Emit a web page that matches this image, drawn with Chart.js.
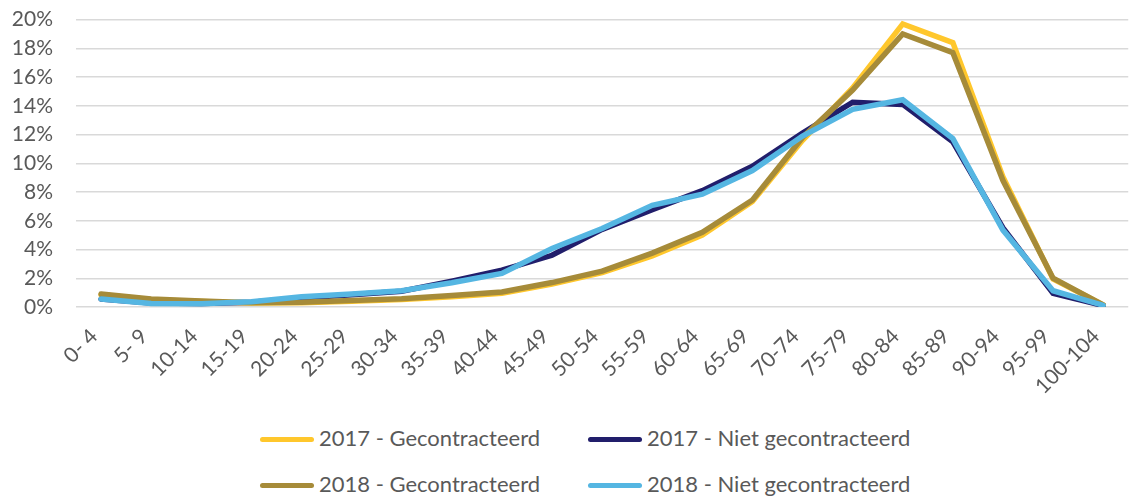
<!DOCTYPE html>
<html>
<head>
<meta charset="utf-8">
<script src="https://cdn.jsdelivr.net/npm/chart.js@4/dist/chart.umd.min.js"></script>
<style>
  html, body { margin: 0; padding: 0; background: #fff; overflow: hidden; width: 1132px; height: 497px; }
  #wrap { position: absolute; left: 0; top: -16px; width: 1138px; height: 423px; }
  #legend { position: absolute; left: 0; top: 420px; width: 1132px; height: 77px;
    font-family: Lato, "Open Sans", sans-serif; font-size: 22px; color: #595959; }
  .item { position: absolute; height: 24px; line-height: 24px; white-space: nowrap; }
  .swatch { display: inline-block; width: 54px; height: 5px; border-radius: 3px; vertical-align: middle; margin-right: 5px; position: relative; top: -1px; }
</style>
</head>
<body>
<div id="wrap"><canvas id="c" width="1138" height="423"></canvas></div>
<div id="legend"></div>
<script>
const categories = ['0- 4','5- 9','10-14','15-19','20-24','25-29','30-34','35-39','40-44','45-49','50-54','55-59','60-64','65-69','70-74','75-79','80-84','85-89','90-94','95-99','100-104'];

const seriesNames = ['2017 - Gecontracteerd', '2017 - Niet gecontracteerd', '2018 - Gecontracteerd', '2018 - Niet gecontracteerd'];

const gecontracteerd2017 = [0.85, 0.5, 0.38, 0.28, 0.3, 0.4, 0.52, 0.72, 0.95, 1.6, 2.4, 3.55, 5.0, 7.35, 11.6, 15.25, 19.7, 18.4, 9.05, 1.95, 0.15];
const nietGecontracteerd2017 = [0.55, 0.28, 0.25, 0.33, 0.62, 0.85, 1.1, 1.8, 2.57, 3.6, 5.4, 6.78, 8.1, 9.8, 12.1, 14.25, 14.1, 11.5, 5.5, 0.95, 0.1];
const gecontracteerd2018 = [0.9, 0.55, 0.42, 0.3, 0.33, 0.45, 0.58, 0.8, 1.05, 1.7, 2.5, 3.75, 5.2, 7.45, 11.8, 15.1, 19.0, 17.7, 8.8, 2.0, 0.15];
const nietGecontracteerd2018 = [0.55, 0.25, 0.23, 0.37, 0.72, 0.9, 1.13, 1.69, 2.34, 4.07, 5.46, 7.08, 7.85, 9.5, 11.9, 13.75, 14.42, 11.72, 5.35, 1.13, 0.12];

const yTicks = [0, 2, 4, 6, 8, 10, 12, 14, 16, 18, 20];

const colors = ['#FFC72C', '#211E6B', '#A68B39', '#55B6E2'];
const drawOrder = [3, 2, 1, 0];
const seriesValues = [gecontracteerd2017, nietGecontracteerd2017, gecontracteerd2018, nietGecontracteerd2018];

const FONT = 'Lato, "Open Sans", sans-serif';
const TEXT = '#595959';

const datasets = seriesValues.map((vals, i) => ({
  label: seriesNames[i],
  data: vals,
  borderColor: colors[i],
  backgroundColor: colors[i],
  borderWidth: 5.5,
  pointRadius: 0,
  tension: 0,
  fill: false,
  order: drawOrder[i],
  borderCapStyle: 'round',
  borderJoinStyle: 'miter'
}));

const chart = new Chart(document.getElementById('c'), {
  type: 'line',
  data: { labels: categories, datasets },
  options: {
    responsive: false,
    animation: false,
    devicePixelRatio: 1,
    layout: { padding: { top: 3, right: 0, bottom: 0, left: 0 } },
    plugins: { legend: { display: false }, tooltip: { enabled: false } },
    scales: {
      x: {
        offset: true,
        grid: { display: false, drawTicks: false },
        border: { display: false },
        ticks: { color: TEXT, font: { family: FONT, size: 21 }, maxRotation: 45, minRotation: 45, autoSkip: false, padding: 17, labelOffset: -7 },
        afterFit: s => { s.height = 100; }
      },
      y: {
        min: 0, max: 20,
        afterBuildTicks: s => { s.ticks = yTicks.map(v => ({ value: v })); },
        grid: { color: '#D9D9D9', lineWidth: 1.5, drawTicks: false },
        border: { display: false },
        ticks: { color: TEXT, font: { family: FONT, size: 21 }, padding: 23, autoSkip: false, callback: v => v + '%' },
        afterFit: s => { s.width = 76; }
      }
    }
  }
});

// HTML legend built from the chart's datasets
const legend = document.getElementById('legend');
const pos = [[260, 6], [588, 6], [260, 52], [588, 52]];
chart.data.datasets.forEach((ds, i) => {
  const d = document.createElement('div');
  d.className = 'item';
  d.style.left = pos[i][0] + 'px';
  d.style.top = pos[i][1] + 'px';
  const sw = document.createElement('span');
  sw.className = 'swatch';
  sw.style.background = ds.borderColor;
  d.appendChild(sw);
  d.appendChild(document.createTextNode(ds.label));
  legend.appendChild(d);
});
</script>
</body>
</html>
